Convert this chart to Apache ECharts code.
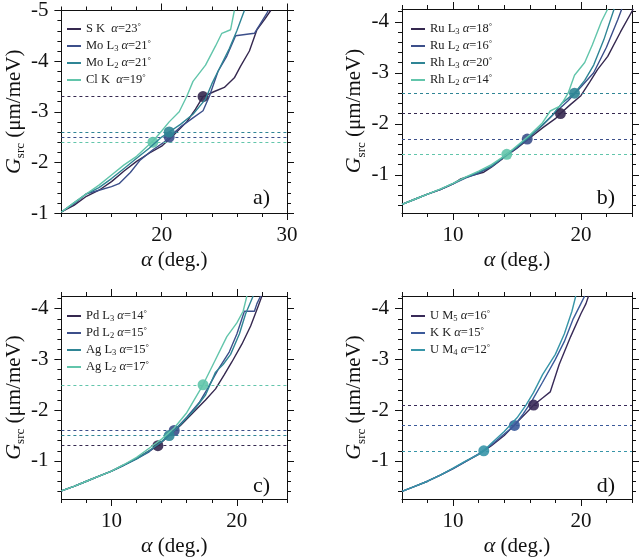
<!DOCTYPE html>
<html>
<head>
<meta charset="utf-8">
<script src="https://cdn.jsdelivr.net/npm/echarts@6/dist/echarts.min.js"></script>
<style>
  html, body { margin: 0; padding: 0; background: #fff; }
  #chart { width: 640px; height: 560px; }
</style>
</head>
<body>
<div id="chart"></div>
<script>
var FONT = 'Liberation Serif';

// panel a) S K, Mo L3, Mo L2, Cl K
var aSK = [[12,-1.02],[13,-1.15],[14,-1.33],[15,-1.45],[16,-1.62],[17,-1.83],[18,-2.02],[19,-2.18],[20,-2.32],[21,-2.55],[22,-2.8],[22.7,-3.05],[23.3,-3.3],[24.2,-3.4],[25,-3.48],[25.8,-3.67],[26.3,-3.9],[27,-4.2],[27.6,-4.62],[28.2,-4.82],[28.7,-5.0]];
var aMoL3 = [[12,-1.02],[13,-1.18],[14,-1.38],[15,-1.45],[16,-1.52],[16.6,-1.58],[17.5,-1.8],[18.3,-2.05],[19.3,-2.25],[20.2,-2.4],[20.6,-2.5],[21.5,-2.7],[22.5,-2.88],[23.3,-3.02],[23.8,-3.3],[24.5,-3.8],[25.2,-4.1],[25.9,-4.5],[27.4,-4.55],[28.4,-4.95],[28.5,-5.0]];
var aMoL2 = [[12,-1.02],[13,-1.2],[14,-1.38],[15,-1.5],[16,-1.68],[17,-1.88],[18,-2.08],[19,-2.28],[20,-2.5],[20.6,-2.6],[21.5,-2.75],[22.5,-2.95],[23.5,-3.25],[24,-3.55],[24.6,-3.85],[25.4,-4.25],[26,-4.6],[26.6,-5.0]];
var aClK = [[12,-1.02],[13,-1.2],[14,-1.38],[15,-1.55],[16,-1.75],[17,-1.95],[18,-2.12],[19.3,-2.42],[20,-2.62],[20.6,-2.8],[21.4,-3.0],[22,-3.3],[22.5,-3.6],[23.5,-3.92],[24.3,-4.3],[24.8,-4.55],[25.5,-4.62],[25.8,-5.0]];
var aPoints = [[23.3,-3.3],[20.6,-2.5],[20.6,-2.6],[19.3,-2.4]];
var aLevels = [-3.3,-2.5,-2.6,-2.4];

// panel b) Ru L3, Ru L2, Rh L3, Rh L2
var bRuL3 = [[6,-0.42],[7,-0.52],[8,-0.62],[9,-0.71],[10,-0.82],[10.6,-0.92],[11.5,-0.99],[12.4,-1.05],[13,-1.15],[14,-1.34],[15,-1.52],[16,-1.72],[17,-1.92],[18,-2.1],[18.4,-2.2],[19.2,-2.38],[20,-2.55],[20.7,-2.82],[21.3,-3.06],[22.1,-3.32],[23.1,-3.8],[24.1,-4.25]];
var bRuL2 = [[6,-0.42],[7,-0.52],[8,-0.62],[9,-0.71],[10,-0.82],[11,-0.94],[12,-1.03],[13,-1.16],[14,-1.35],[15,-1.53],[15.8,-1.7],[17,-1.97],[18,-2.22],[19,-2.45],[20,-2.72],[21,-3.0],[22,-3.5],[22.9,-4.05],[23.2,-4.25]];
var bRhL3 = [[6,-0.42],[7,-0.52],[8,-0.62],[9,-0.72],[10,-0.83],[11,-0.95],[12,-1.05],[13,-1.17],[14,-1.36],[15,-1.55],[16,-1.75],[17,-1.98],[17.7,-2.15],[18.5,-2.4],[19.5,-2.6],[20.3,-2.85],[21,-3.15],[21.8,-3.65],[22.6,-4.25]];
var bRhL2 = [[6,-0.42],[7,-0.52],[8,-0.62],[9,-0.72],[10,-0.83],[11,-0.96],[12,-1.07],[13,-1.2],[14.2,-1.4],[15,-1.57],[16,-1.78],[17,-2.02],[17.6,-2.25],[18.4,-2.35],[19,-2.6],[19.5,-2.95],[20.3,-3.2],[20.9,-3.55],[21.6,-4.0],[22.1,-4.25]];
var bPoints = [[18.4,-2.2],[15.8,-1.7],[19.5,-2.6],[14.2,-1.4]];
var bLevels = [-2.2,-1.7,-2.6,-1.4];

// panel c) Pd L3, Pd L2, Ag L3, Ag L2
var cPdL3 = [[6,-0.41],[7,-0.5],[8,-0.6],[9,-0.7],[10,-0.8],[11,-0.92],[12,-1.05],[13,-1.2],[13.7,-1.3],[14.5,-1.48],[15.5,-1.7],[16.5,-1.95],[17.5,-2.2],[18.3,-2.42],[19,-2.7],[19.6,-2.95],[20.4,-3.3],[21.1,-3.66],[21.7,-4.05],[22,-4.25]];
var cPdL2 = [[6,-0.41],[7,-0.5],[8,-0.6],[9,-0.7],[10,-0.8],[11,-0.92],[12,-1.04],[13,-1.18],[14,-1.38],[15,-1.6],[16,-1.86],[17,-2.15],[17.6,-2.4],[18.5,-2.8],[19.4,-3.15],[20,-3.5],[20.6,-3.95],[21.4,-3.95],[21.6,-4.1],[21.9,-4.25]];
var cAgL3 = [[6,-0.41],[7,-0.5],[8,-0.6],[9,-0.7],[10,-0.8],[11,-0.92],[12,-1.04],[13,-1.2],[14,-1.38],[14.6,-1.5],[15.5,-1.72],[16.5,-1.98],[17.5,-2.3],[18.3,-2.75],[18.9,-2.9],[19.5,-3.1],[20.2,-3.5],[20.7,-3.9],[21.3,-4.25]];
var cAgL2 = [[6,-0.41],[7,-0.5],[8,-0.6],[9,-0.7],[10,-0.8],[11,-0.93],[12,-1.07],[13,-1.25],[14,-1.43],[15,-1.65],[16,-1.95],[17.3,-2.5],[18.2,-2.95],[19.2,-3.45],[20,-3.72],[20.5,-3.95],[20.8,-4.25]];
var cPoints = [[13.7,-1.3],[15.0,-1.6],[14.6,-1.5],[17.3,-2.5]];
var cLevels = [-1.3,-1.6,-1.5,-2.5];

// panel d) U M5, K K, U M4
var dUM5 = [[6,-0.4],[7,-0.5],[8,-0.6],[9,-0.72],[10,-0.85],[11,-0.99],[12,-1.13],[13,-1.3],[14,-1.5],[15,-1.76],[16,-2.02],[16.3,-2.1],[17,-2.24],[17.6,-2.36],[18.3,-2.9],[19.2,-3.45],[20,-3.9],[20.4,-4.1],[20.6,-4.25]];
var dKK = [[6,-0.4],[7,-0.5],[8,-0.6],[9,-0.72],[10,-0.85],[11,-0.99],[12,-1.14],[13,-1.32],[14,-1.53],[14.8,-1.7],[15.5,-1.93],[16.2,-2.2],[17,-2.55],[18,-3.0],[18.7,-3.35],[19.4,-3.8],[20,-4.1],[20.3,-4.25]];
var dUM4 = [[6,-0.4],[7,-0.5],[8,-0.6],[9,-0.72],[10,-0.86],[11,-1.0],[12,-1.13],[12.4,-1.2],[13,-1.35],[14,-1.58],[15,-1.85],[15.7,-2.1],[16.3,-2.35],[17,-2.7],[18,-3.1],[18.7,-3.5],[19.3,-3.95],[19.6,-4.25]];
var dPoints = [[16.3,-2.1],[14.8,-1.7],[12.4,-1.2]];
var dLevels = [-2.1,-1.7,-1.2];

// legend texts and tick labels
var aNames = ['S K', 'Mo L3', 'Mo L2', 'Cl K'];
var aLabels = ['S K  {it|α}=23{sup|°}', 'Mo L{sub|3} {it|α}=21{sup|°}', 'Mo L{sub|2} {it|α}=21{sup|°}', 'Cl K  {it|α}=19{sup|°}'];
var bNames = ['Ru L3', 'Ru L2', 'Rh L3', 'Rh L2'];
var bLabels = ['Ru L{sub|3} {it|α}=18{sup|°}', 'Ru L{sub|2} {it|α}=16{sup|°}', 'Rh L{sub|3} {it|α}=20{sup|°}', 'Rh L{sub|2} {it|α}=14{sup|°}'];
var cNames = ['Pd L3', 'Pd L2', 'Ag L3', 'Ag L2'];
var cLabels = ['Pd L{sub|3} {it|α}=14{sup|°}', 'Pd L{sub|2} {it|α}=15{sup|°}', 'Ag L{sub|3} {it|α}=15{sup|°}', 'Ag L{sub|2} {it|α}=17{sup|°}'];
var dNames = ['U M5', 'K K', 'U M4'];
var dLabels = ['U M{sub|5} {it|α}=16{sup|°}', 'K K {it|α}=15{sup|°}', 'U M{sub|4} {it|α}=12{sup|°}'];

var xTicksA = [20, 30];
var xTicksBCD = [10, 20];
var yTicksA = [-5, -4, -3, -2, -1];
var yTicksBCD = [-4, -3, -2, -1];

var colors4 = ['#35284f', '#3c4f8a', '#2f8595', '#62c5ab'];
var colors3 = ['#382a58', '#3b5a9a', '#3795a8'];

var panels = [
    {grid: {left: 58, top: 9, width: 229, height: 204}, x: [12, 30], y: [-5, -1], xt: xTicksA, yt: yTicksA,
     names: aNames, labels: aLabels, data: [aSK, aMoL3, aMoL2, aClK], pts: aPoints, lv: aLevels, colors: colors4,
     legend: {left: 62, top: 17}, letter: 'a)'},
    {grid: {left: 402, top: 9, width: 230, height: 204}, x: [6, 24], y: [-4.25, -0.25], xt: xTicksBCD, yt: yTicksBCD,
     names: bNames, labels: bLabels, data: [bRuL3, bRuL2, bRhL3, bRhL2], pts: bPoints, lv: bLevels, colors: colors4,
     legend: {left: 406, top: 17}, letter: 'b)'},
    {grid: {left: 58, top: 296, width: 229, height: 205}, x: [6, 24], y: [-4.25, -0.25], xt: xTicksBCD, yt: yTicksBCD,
     names: cNames, labels: cLabels, data: [cPdL3, cPdL2, cAgL3, cAgL2], pts: cPoints, lv: cLevels, colors: colors4,
     legend: {left: 62, top: 304}, letter: 'c)'},
    {grid: {left: 402, top: 296, width: 230, height: 205}, x: [6, 24], y: [-4.25, -0.25], xt: xTicksBCD, yt: yTicksBCD,
     names: dNames, labels: dLabels, data: [dUM5, dKK, dUM4], pts: dPoints, lv: dLevels, colors: colors3,
     legend: {left: 406, top: 304}, letter: 'd)'}
];

// minor tick positions between min and max
function steps(min, max, step) {
    var out = [];
    for (var k = Math.ceil(min / step - 1e-6); k * step <= max + 1e-6; k++) {
        out.push(+(k * step).toFixed(4));
    }
    return out;
}

function axis(g, range, pos, ticks, len, opts) {
    var a = {
        gridIndex: g, type: 'value', min: range[0], max: range[1], position: pos,
        axisLine: {show: !!opts.line, onZero: false, lineStyle: {color: '#111', width: 1}},
        axisTick: {show: true, inside: false, length: len, customValues: ticks, lineStyle: {color: '#111', width: 1}},
        axisLabel: {show: false},
        splitLine: {show: false}
    };
    if (opts.labels) {
        a.axisLabel = {show: true, customValues: opts.labels, margin: opts.margin,
            fontFamily: FONT, fontSize: 21, color: '#111'};
    }
    if (opts.inverse) a.inverse = true;
    if (opts.name) {
        a.name = opts.name;
        a.nameLocation = 'middle';
        a.nameGap = opts.nameGap;
        a.nameTextStyle = {fontFamily: FONT, fontSize: 21, color: '#111', lineHeight: 26,
            rich: {
                it: {fontFamily: FONT, fontSize: 22, fontStyle: 'italic', color: '#111', lineHeight: 26},
                sub: {fontFamily: FONT, fontSize: 13, color: '#111', verticalAlign: 'bottom', lineHeight: 13}
            }};
    }
    return a;
}

var option = {
    animation: false,
    backgroundColor: '#fff',
    textStyle: {fontFamily: FONT},
    grid: [], xAxis: [], yAxis: [], legend: [], series: [], graphic: []
};

panels.forEach(function (p, g) {
    option.grid.push(p.grid);
    var xMinor = steps(p.x[0], p.x[1], 2);
    var yMinor = steps(p.y[0], p.y[1], 0.2);
    var xi = option.xAxis.length;
    var yi = option.yAxis.length;

    option.xAxis.push(axis(g, p.x, 'bottom', p.xt, 7, {line: true, labels: p.xt, margin: 12,
        name: '{it|α} (deg.)', nameGap: 34}));
    option.xAxis.push(axis(g, p.x, 'bottom', xMinor, 4, {}));
    option.xAxis.push(axis(g, p.x, 'top', p.xt, 7, {line: true}));
    option.xAxis.push(axis(g, p.x, 'top', xMinor, 4, {}));

    option.yAxis.push(axis(g, p.y, 'left', p.yt, 7, {line: true, labels: p.yt, margin: 13, inverse: true,
        name: '{it|G}{sub|src} (μm/meV)', nameGap: 30}));
    option.yAxis.push(axis(g, p.y, 'left', yMinor, 4, {inverse: true}));
    option.yAxis.push(axis(g, p.y, 'right', p.yt, 7, {line: true, inverse: true}));
    option.yAxis.push(axis(g, p.y, 'right', yMinor, 4, {inverse: true}));

    var fmt = {};
    p.names.forEach(function (n, i) { fmt[n] = p.labels[i]; });

    option.legend.push({
        data: p.names, orient: 'vertical', left: p.legend.left, top: p.legend.top,
        icon: 'rect', itemWidth: 14, itemHeight: 2, itemGap: 3, selectedMode: false,
        formatter: function (name) { return fmt[name]; },
        textStyle: {fontFamily: FONT, fontSize: 12.5, color: '#222', lineHeight: 14,
            rich: {
                it: {fontFamily: FONT, fontSize: 12.5, fontStyle: 'italic', color: '#222', lineHeight: 14},
                sub: {fontFamily: FONT, fontSize: 8.5, color: '#222', verticalAlign: 'bottom', lineHeight: 9},
                sup: {fontFamily: FONT, fontSize: 8.5, color: '#222', verticalAlign: 'top', lineHeight: 9}
            }}
    });

    p.names.forEach(function (n, i) {
        var c = p.colors[i];
        option.series.push({
            name: n, type: 'line', xAxisIndex: xi, yAxisIndex: yi,
            data: p.data[i], showSymbol: false, color: c,
            lineStyle: {color: c, width: 1.4},
            markLine: {
                silent: true, symbol: 'none', label: {show: false},
                lineStyle: {color: c, type: [3, 3], width: 1},
                data: [{yAxis: p.lv[i]}]
            },
            markPoint: {
                silent: true, symbol: 'circle', symbolSize: 11, label: {show: false},
                itemStyle: {color: c, opacity: 0.9},
                data: [{coord: p.pts[i]}]
            },
            z: 3 + i
        });
    });

    option.graphic.push({
        type: 'text',
        right: 640 - (p.grid.left + p.grid.width) + 17,
        top: p.grid.top + p.grid.height - 26,
        style: {text: p.letter, font: '22px ' + FONT, fill: '#111'}
    });
});

var myChart = echarts.init(document.getElementById('chart'));
myChart.setOption(option);
</script>
</body>
</html>
